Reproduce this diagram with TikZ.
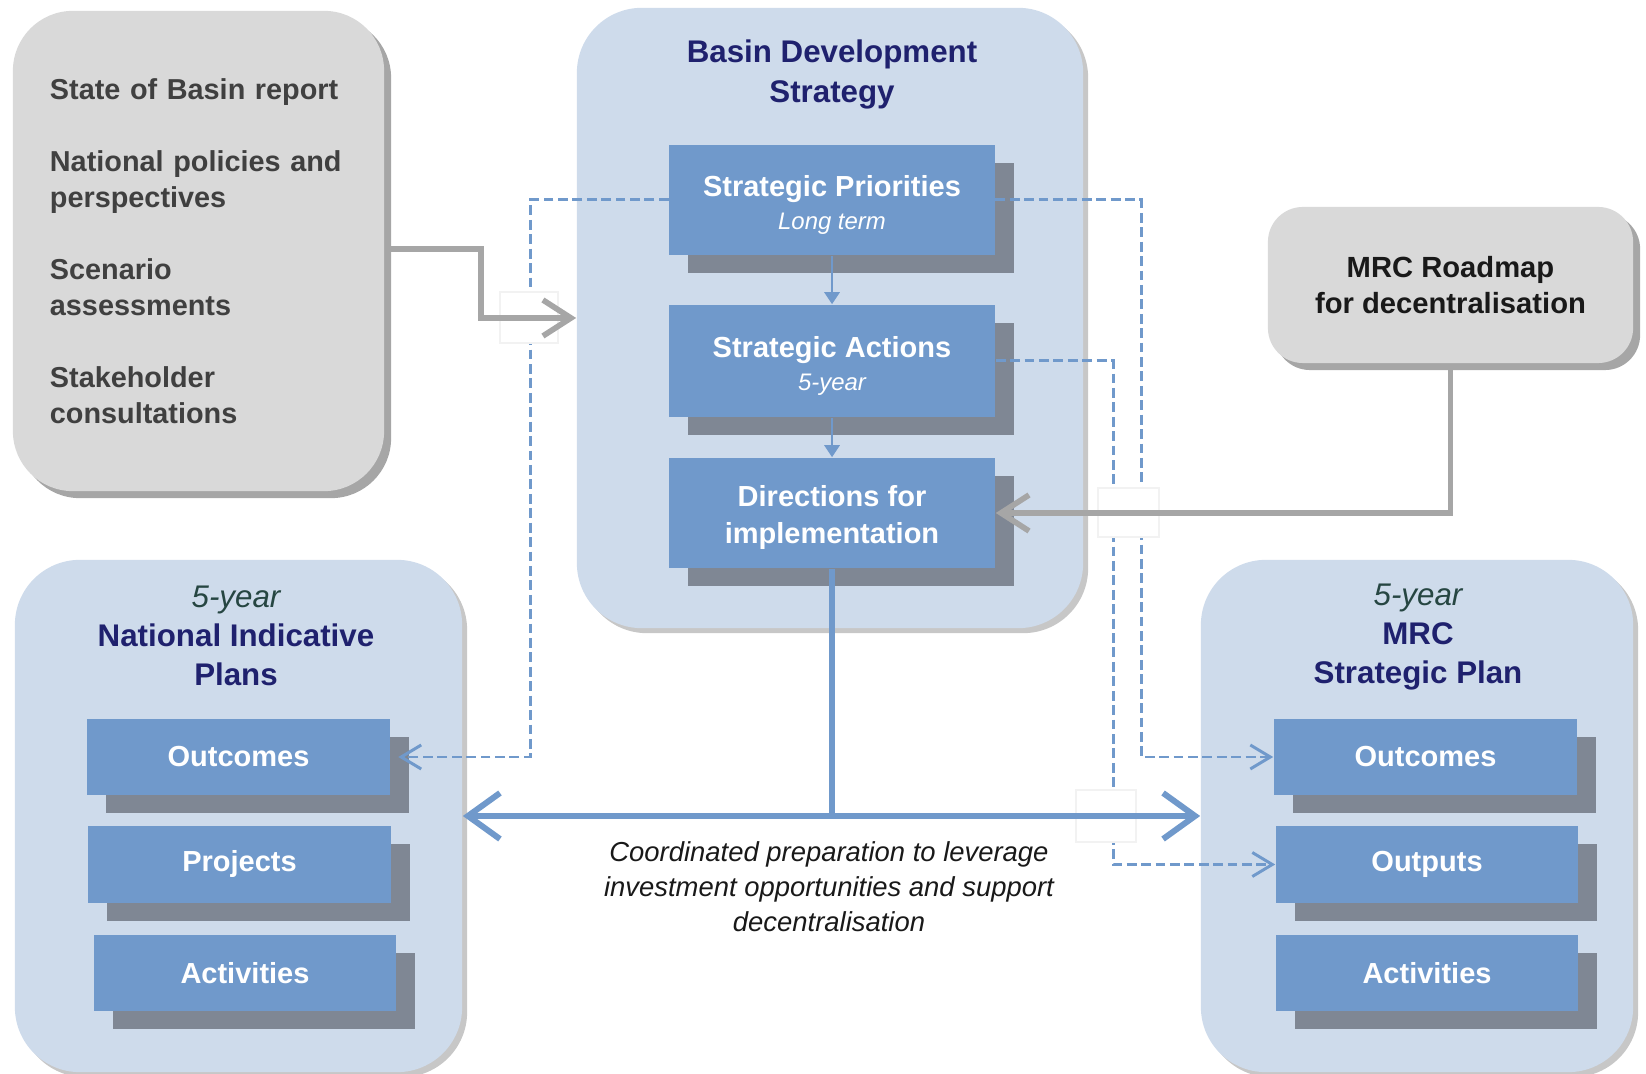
\documentclass[tikz,border=0pt]{standalone}
\usepackage{fontspec}
\setmainfont{Liberation Sans}
\usetikzlibrary{arrows.meta,shadows}

\definecolor{boxblue}{RGB}{112,153,203}
\definecolor{paleblue}{RGB}{206,219,235}
\definecolor{boxshadow}{RGB}{127,135,148}
\definecolor{panelgray}{RGB}{217,217,217}
\definecolor{linegray}{RGB}{166,166,166}
\definecolor{titlenavy}{RGB}{31,33,110}
\definecolor{yeargreen}{RGB}{38,70,66}
\definecolor{inputink}{RGB}{64,64,64}

\newcommand\boxfont{\fontsize{8.25}{9.4}\selectfont\bfseries}
\newcommand\titlefont{\fontsize{8.9}{11.1}\selectfont\bfseries}
\newcommand\smalltag{\fontsize{6.8}{9.4}\selectfont\mdseries\itshape}
\newcommand\yeartag{\mdseries\itshape\color{yeargreen}}
\newcommand\lowerstrut{\rule{0pt}{8.6pt}}

\tikzset{
  panel/.style={rounded corners=0.65cm, fill=paleblue,
    drop shadow={shadow xshift=0.05cm, shadow yshift=-0.05cm, fill=black, opacity=0.22}},
  graypanel/.style={rounded corners=0.6cm, fill=panelgray,
    drop shadow={shadow xshift=0.07cm, shadow yshift=-0.07cm, fill=black, opacity=0.35}},
  bluebox/.style={fill=boxblue, text=white, align=center, inner sep=0pt, font=\boxfont,
    minimum width=3.02cm, minimum height=0.76cm,
    drop shadow={shadow xshift=0.19cm, shadow yshift=-0.18cm, fill=boxshadow, opacity=1}},
  paneltitle/.style={text=titlenavy, align=center, font=\titlefont},
  grayarrow/.style={draw=linegray, line width=1.6pt, -{Straight Barb[length=2.8mm,width=3.6mm]}},
  bluearrow/.style={draw=boxblue, line width=1.7pt,
    {Straight Barb[length=3.2mm,width=4.6mm]}-{Straight Barb[length=3.2mm,width=4.6mm]}},
  dashlink/.style={draw=boxblue, line width=0.85pt, dash pattern=on 2.8pt off 1.3pt,
    -{Straight Barb[length=2mm,width=2.4mm]}},
  steparrow/.style={draw=boxblue, line width=0.8pt, -{Triangle[length=1.2mm,width=1.5mm]}},
  bridge/.style={fill=white, draw=black!5},
}

\begin{document}
\begin{tikzpicture}[x=0.01cm, y=-0.01cm]
  \useasboundingbox (0,0) rectangle (1646,1074);

  %%%%% panels %%%%%
  \node[panel, minimum width=5.06cm, minimum height=6.2cm] (bds) at (830,318) {};
  \node[panel, minimum width=4.47cm, minimum height=5.12cm] (nip) at (238.5,816) {};
  \node[panel, minimum width=4.32cm, minimum height=5.12cm] (msp) at (1417,816) {};

  \node[graypanel, minimum height=4.8cm, text width=2.97cm, inner xsep=0.37cm, align=left,
        text=inputink, font=\fontsize{8.2}{10.24}\selectfont\bfseries] (inputs) at (198.5,251)
    {State of Basin report\\[10.24pt]
     National policies and\\perspectives\\[10.24pt]
     Scenario\\assessments\\[10.24pt]
     Stakeholder\\consultations};

  \node[graypanel, rounded corners=0.35cm, minimum width=3.65cm, minimum height=1.56cm,
        align=center, text=black!90, font=\fontsize{8.3}{10.2}\selectfont\bfseries] (roadmap) at (1450.5,285)
    {MRC Roadmap\\for decentralisation};

  %%%%% titles %%%%%
  \node[paneltitle] (bdstitle) at (832,74.5) {Basin Development\\Strategy};
  \node[paneltitle] (niptitle) at (236,635.5) {{\yeartag 5-year}\\National Indicative\\Plans};
  \node[paneltitle] (msptitle) at (1418,637.5) {{\yeartag 5-year}\\MRC\\Strategic Plan};

  %%%%% strategy boxes %%%%%
  \node[bluebox, minimum width=3.25cm, minimum height=1.1cm] (sp) at (832,200)
    {\lowerstrut Strategic Priorities\\{\smalltag Long term}};
  \node[bluebox, minimum width=3.26cm, minimum height=1.12cm] (sa) at (832,361)
    {\lowerstrut Strategic Actions\\{\smalltag 5-year}};
  \node[bluebox, minimum width=3.26cm, minimum height=1.1cm, font=\fontsize{8.25}{10.5}\selectfont\bfseries] (di) at (832,513)
    {\lowerstrut Directions for\\implementation};

  %%%%% plan boxes %%%%%
  \node[bluebox] (nout) at (238.5,757) {Outcomes};
  \node[bluebox, minimum height=0.77cm] (nproj) at (239.5,864.5) {Projects};
  \node[bluebox] (nact) at (245,973) {Activities};

  \node[bluebox, minimum width=3.03cm] (mout) at (1425.5,757) {Outcomes};
  \node[bluebox, minimum height=0.77cm] (mopt) at (1427,864.5) {Outputs};
  \node[bluebox] (mact) at (1427,973) {Activities};

  %%%%% caption %%%%%
  \node[align=center, text=black!90, font=\fontsize{7.8}{9.96}\selectfont\itshape] (coord) at (829,887)
    {Coordinated preparation to leverage\\investment opportunities and support\\decentralisation};

  %%%%% dashed links %%%%%
  \coordinate (leftdrop) at (530,0);
  \coordinate (rightdrop) at (1141,0);
  \coordinate (middrop) at (1113,0);
  \draw[dashlink] (sp.west) -| (leftdrop |- nout.east) -- ([xshift=0.08cm]nout.east);
  \draw[dashlink] (sp.east) -| (rightdrop |- mout.west) -- (mout.west);
  \draw[dashlink] (sa.east) -| (middrop |- mopt.west) -- (mopt.west);

  % gaps where the solid lines cross
  \draw[bridge] (500,292) rectangle (558,343);
  \draw[bridge] (1098,488) rectangle (1159,537);
  \draw[bridge] (1076,790) rectangle (1136,842);

  %%%%% solid links %%%%%
  \draw[steparrow] (sp) -- (sa);
  \draw[steparrow] (sa) -- (di);

  \coordinate (inbend) at (481,249);
  \draw[grayarrow] (inputs.east |- inbend) -| (inbend |- bds.west) -- (bds.west);
  \draw[grayarrow] (roadmap.south) |- (di.east);

  \draw[draw=boxblue, line width=1.7pt] (di.south) -- (di.south |- nip.east);
  \draw[bluearrow] (nip.east) -- (msp.west);
\end{tikzpicture}
\end{document}
